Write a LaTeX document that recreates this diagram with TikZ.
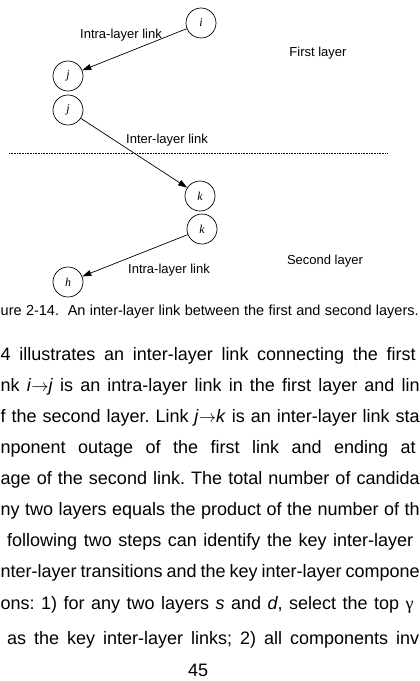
\documentclass[tikz,border=0pt]{standalone}
\usepackage{fontspec}
\setmainfont{Liberation Sans}
\newfontfamily\letra{Liberation Serif}
\usetikzlibrary{arrows.meta,positioning}
\tikzset{
  nodo/.style={circle,draw=black,line width=0.7pt,minimum size=30pt,inner sep=0pt,font=\letra\itshape\fontsize{12}{12}\selectfont},
  flecha/.style={-{Triangle[length=9pt,width=6pt]},line width=0.7pt},
  etiq/.style={inner sep=0pt,font=\fontsize{13}{13}\selectfont},
  renglon/.style={anchor=base west,inner sep=0pt,font=\fontsize{18}{18}\selectfont}
}
\newcommand{\flechita}{\ensuremath{\rightarrow}}
\frenchspacing
\begin{document}
\begin{tikzpicture}[x=1pt,y=-1pt]
\useasboundingbox (0,0) rectangle (420,681);
\clip (0,0) rectangle (420,681);
\node[nodo] (i) at (201,23) {i};
\node[nodo] (j1) at (68,76) {j};
\node[nodo] (j2) at (68,110) {j};
\node[nodo] (k1) at (200,196) {k};
\node[nodo] (k2) at (202,229) {k};
\node[nodo] (h) at (68,282) {h};
\draw[flecha] (i) -- (j1);
\draw[flecha] (j2) -- (k1);
\draw[flecha] (k2) -- (h);
\coordinate (capaA) at (9,153); \coordinate (capaB) at (387,153);
\draw[densely dotted,line width=0.6pt] (capaA) -- (capaB);
\node[etiq] (intra1) at (121,35) {Intra-layer link}; \node[etiq] (inter) at (167,140) {Inter-layer link};
\node[etiq] (intra2) at (169,270) {Intra-layer link};
\node[etiq] (capa1) at (318,53) {First layer}; \node[etiq] (capa2) at (325,261) {Second layer};
\node[renglon,font=\fontsize{14.5}{14.5}\selectfont] (pie) at (0.5,315) {\makebox[418pt][s]{ure 2-14.\ \ An inter-layer link between the first and second layers.}};
\foreach \y/\a/\w/\t in {360/0.5/415/{4 illustrates an inter-layer link connecting the first},
  391/0.5/419/{nk \textit{i}\flechita\textit{j} is an intra-layer link in the first layer and lin},
  422/0.5/419/{f the second layer. Link \textit{j}\flechita\textit{k} is an inter-layer link sta},
  453/0.5/415/{nponent outage of the first link and ending at},
  484/0.5/419/{age of the second link. The total number of candida},
  515/0.5/419/{ny two layers equals the product of the number of th},
  546/7/406/{following two steps can identify the key inter-layer},
  577/0.5/419/{nter-layer transitions and the key inter-layer compone},
  609/0.5/413/{ons: 1) for any two layers \textit{s} and \textit{d}, select the top {\letra γ}},
  644/7/412/{as the key inter-layer links; 2) all components inv}}
  {\node[renglon] at (\a,\y) {\makebox[\w pt][s]{\t}};}
\node[renglon] (pag) at (188,676) {45};
\end{tikzpicture}
\end{document}
